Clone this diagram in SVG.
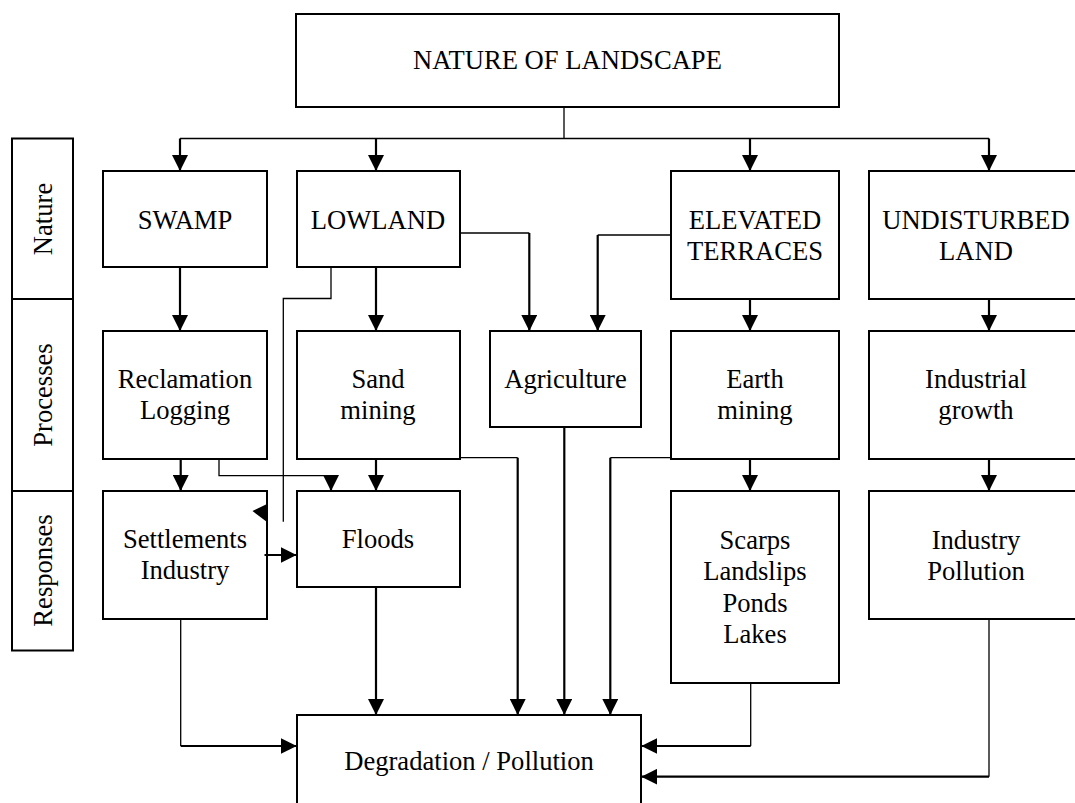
<svg xmlns="http://www.w3.org/2000/svg" width="1075" height="803" viewBox="0 0 1075 803">
<defs>
<marker id="ah" markerUnits="userSpaceOnUse" markerWidth="16" markerHeight="16" refX="16" refY="8" orient="auto" viewBox="0 0 16 16"><path d="M0,0 L16,8 L0,16 z" fill="#000"/></marker>
</defs>
<style>
.box{fill:#fff;stroke:#000;stroke-width:2}
text{font-family:"Liberation Serif","Times New Roman",serif;font-size:26.6px;fill:#000;text-anchor:middle}
.thin{fill:none;stroke:#000;stroke-width:1.3}
.thick{fill:none;stroke:#000;stroke-width:2.2;marker-end:url(#ah)}
</style>
<rect width="1075" height="803" fill="#fff"/>
<g id="nature-of-landscape"><rect class="box" x="296" y="14" width="543" height="93"/><text x="567.5" y="69">NATURE OF LANDSCAPE</text></g>
<g id="label-nature"><rect class="box" x="12" y="138.5" width="61" height="160.5"/><text transform="translate(52,219) rotate(-90)">Nature</text></g>
<g id="label-processes"><rect class="box" x="12" y="299" width="61" height="192"/><text transform="translate(52,395) rotate(-90)">Processes</text></g>
<g id="label-responses"><rect class="box" x="12" y="491" width="61" height="159.5"/><text transform="translate(52,570.5) rotate(-90)">Responses</text></g>
<g id="swamp"><rect class="box" x="103" y="171" width="164" height="96"/><text x="185" y="229">SWAMP</text></g>
<g id="lowland"><rect class="box" x="297" y="171" width="163" height="96"/><text x="378" y="229">LOWLAND</text></g>
<g id="elevated-terraces"><rect class="box" x="671" y="171" width="168" height="128"/><text x="755" y="228.5">ELEVATED</text><text x="755" y="260">TERRACES</text></g>
<g id="undisturbed-land"><rect class="box" x="869" y="171" width="216" height="128"/><text x="976" y="228.5">UNDISTURBED</text><text x="976" y="260">LAND</text></g>
<g id="reclamation-logging"><rect class="box" x="103" y="331" width="164" height="128"/><text x="185" y="388">Reclamation</text><text x="185" y="419">Logging</text></g>
<g id="sand-mining"><rect class="box" x="297" y="331" width="163" height="128"/><text x="378" y="388">Sand</text><text x="378" y="419">mining</text></g>
<g id="agriculture"><rect class="box" x="490" y="331" width="151" height="96"/><text x="565.5" y="388">Agriculture</text></g>
<g id="earth-mining"><rect class="box" x="671" y="331" width="168" height="128"/><text x="755" y="388">Earth</text><text x="755" y="419">mining</text></g>
<g id="industrial-growth"><rect class="box" x="869" y="331" width="216" height="128"/><text x="976" y="388">Industrial</text><text x="976" y="419">growth</text></g>
<g id="settlements-industry"><rect class="box" x="103" y="491" width="164" height="128"/><text x="185" y="548">Settlements</text><text x="185" y="579">Industry</text></g>
<g id="floods"><rect class="box" x="297" y="491" width="163" height="96"/><text x="378" y="548">Floods</text></g>
<g id="scarps"><rect class="box" x="671" y="491" width="168" height="192"/><text x="755" y="548.5">Scarps</text><text x="755" y="580">Landslips</text><text x="755" y="611.5">Ponds</text><text x="755" y="643">Lakes</text></g>
<g id="industry-pollution"><rect class="box" x="869" y="491" width="216" height="128"/><text x="976" y="548.5">Industry</text><text x="976" y="580">Pollution</text></g>
<g id="degradation-pollution"><rect class="box" x="297" y="715" width="344" height="100"/><text x="469" y="770">Degradation / Pollution</text></g>
<g id="connectors">
<path class="thin" d="M564,107 V138.5 M180,138.5 H989"/>
<path class="thick" d="M180,138.5 V171"/>
<path class="thick" d="M376,138.5 V171"/>
<path class="thick" d="M750,138.5 V171"/>
<path class="thick" d="M989,138.5 V171"/>
<path class="thick" d="M180,267 V331"/>
<path class="thick" d="M376,267 V331"/>
<path class="thick" d="M750,299 V331"/>
<path class="thick" d="M989,299 V331"/>
<path class="thin" d="M460,233 H529.3"/>
<path class="thick" d="M529.3,233 V331"/>
<path class="thin" d="M671,235 H597.7"/>
<path class="thick" d="M597.7,235 V331"/>
<path class="thin" d="M331,267 V298.5 H283.3 V521.7"/>
<polygon points="252.5,511 267,504 267,522" fill="#000"/>
<path class="thick" d="M180.7,459 V491"/>
<path class="thin" d="M219,459 V475.7 H331"/>
<path class="thick" d="M331,475.7 V491"/>
<path class="thick" d="M376,459 V491"/>
<path class="thick" d="M264.5,555 H296.5"/>
<path class="thin" d="M460,457.7 H517.7"/>
<path class="thick" d="M517.7,457.7 V715"/>
<path class="thick" d="M564.3,427 V715"/>
<path class="thin" d="M671,457.7 H610.3"/>
<path class="thick" d="M610.3,457.7 V715"/>
<path class="thick" d="M376,587 V715"/>
<path class="thin" d="M180.7,619 V746"/>
<path class="thick" d="M180.7,746 H296.7"/>
<path class="thin" d="M750.7,683 V746"/>
<path class="thick" d="M750.7,746 H641.3"/>
<path class="thin" d="M989,619 V776.7"/>
<path class="thick" d="M989,776.7 H641.3"/>
<path class="thick" d="M750,459 V491"/>
<path class="thick" d="M989,459 V491"/>
</g>
</svg>
